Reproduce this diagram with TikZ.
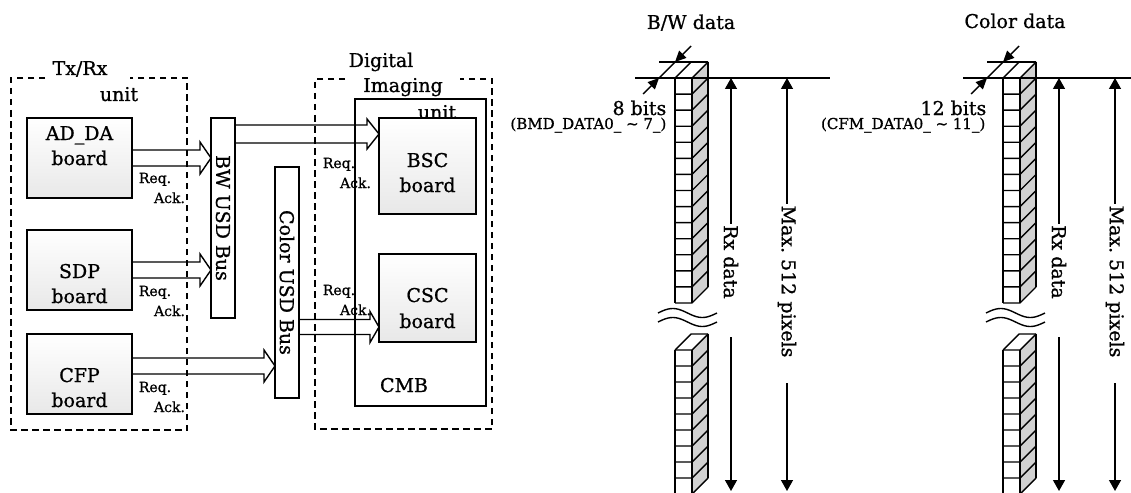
\documentclass[tikz,border=0pt]{standalone}
\usepackage{fontspec}
\setmainfont[FakeBold=0.9]{DejaVu Serif}
\frenchspacing
\usetikzlibrary{arrows.meta,calc}
\newcommand{\hollowarr}[5]{%
  \draw let \p1=(#1), \p2=(#2) in (\x1,{\y2+#3pt}) -- ({\x2-#5pt},{\y2+#3pt}) -- ({\x2-#5pt},{\y2+#4pt}) -- (\x2,\y2) -- ({\x2-#5pt},{\y2-#4pt}) -- ({\x2-#5pt},{\y2-#3pt}) -- (\x1,{\y2-#3pt});}
\newcommand{\datacol}[4]{%
  \fill[sidegray] (#1+17,#2) -- (#1+33,#2-16) -- (#1+33,{#2+#3*#4-16}) -- (#1+17,{#2+#3*#4}) -- cycle;
  \draw (#1,#2) -- (#1+16,#2-16) -- (#1+33,#2-16);
  \draw (#1,#2) -- (#1,{#2+#3*#4});
  \draw (#1+17,#2) -- (#1+17,{#2+#3*#4});
  \draw (#1+33,#2-16) -- (#1+33,{#2+#3*#4-16});
  \foreach \i in {0,...,#3}{\draw (#1,{#2+\i*#4}) -- (#1+17,{#2+\i*#4}) -- (#1+33,{#2+\i*#4-16});}
}
\begin{document}
\begin{tikzpicture}[x=1pt,y=-1pt,line width=1.4pt,
  big/.style={font=\fontsize{19}{23}\selectfont},
  mid/.style={font=\fontsize{14}{16}\selectfont},
  sml/.style={font=\fontsize{15}{17}\selectfont},
  wh/.style 2 args={draw,rectangle,inner sep=0pt,outer sep=0pt,minimum width=#1,minimum height=#2,anchor=north west},
  board/.style={top color=white,bottom color=black!9},
  dashbox/.style={dash pattern=on 6.5pt off 4.5pt},
  sidegray/.style={fill=black!18},
  rot/.style={big,rotate=-90,inner sep=1pt},
  tip/.style={-{Triangle[length=11pt,width=12pt]}},
  dtip/.style={-{Triangle[length=11pt,width=10pt]}}]
\useasboundingbox (0,0) rectangle (1131,492);

% ---------- left block diagram ----------
\draw[dashbox] (45,78) -- (11,78) -- (11,430) -- (187,430) -- (187,78) -- (130,78);
\draw[dashbox] (345,79) -- (315,79) -- (315,429) -- (492,429) -- (492,79) -- (460,79);
\node[big,anchor=base] (t1) at (80,75) {Tx/Rx};
\node[big,anchor=base] (t2) at (119,101) {unit};
\node[big,anchor=base] (d1) at (381,67) {Digital};
\node[big,anchor=base] (d2) at (403,92) {Imaging};

\node[wh={131pt}{307pt}] (cmb) at (355,99) {};
\node[big,anchor=base] (d3) at (437,119) {unit};
\node[big,anchor=base] (cmbt) at (404,392) {CMB};

\node[wh={105pt}{80pt},board] (ad) at (27,118) {};
\node[wh={105pt}{80pt},board] (sdp) at (27,230) {};
\node[wh={105pt}{80pt},board] (cfp) at (27,334) {};
\node[wh={97pt}{96pt},board] (bsc) at (379,118) {};
\node[wh={97pt}{88pt},board] (csc) at (379,254) {};
\node[wh={24pt}{200pt}] (bw) at (211,118) {};
\node[wh={24pt}{231pt}] (col) at (275,167) {};

\node[big,anchor=base] (adt1) at (79.5,140) {AD\_DA};
\node[big,anchor=base] (adt2) at (79.5,165) {board};
\node[big,anchor=base] (sdt1) at (79.5,278) {SDP};
\node[big,anchor=base] (sdt2) at (79.5,303) {board};
\node[big,anchor=base] (cft1) at (79.5,382) {CFP};
\node[big,anchor=base] (cft2) at (79.5,407) {board};
\node[big,anchor=base] (bst1) at (427.5,167) {BSC};
\node[big,anchor=base] (bst2) at (427.5,192) {board};
\node[big,anchor=base] (cst1) at (427.5,302) {CSC};
\node[big,anchor=base] (cst2) at (427.5,328) {board};

\node[rot] (bwt) at (223,218) {BW USD Bus};
\node[rot] (colt) at (287,282.5) {Color USD Bus};

\path ($(cfp.east)+(0,-8)$) coordinate (cfpa);
\path ($(bsc.west)+(0,-32)$) coordinate (bsca);
\path ($(csc.west)+(0,29)$) coordinate (csca);
\hollowarr{ad.east}{ad.east -| bw.west}{8}{16}{11}
\hollowarr{sdp.east}{sdp.east -| bw.west}{8}{16}{11}
\hollowarr{cfpa}{cfpa -| col.west}{8}{16}{11}
\hollowarr{bsca -| bw.east}{bsca}{9}{15}{12}
\hollowarr{csca -| col.east}{csca}{7.5}{15.5}{9}

\foreach \n/\y in {a/183,b/296,c/392}{
  \node[mid,anchor=base] (req\n) at (155,\y) {Req.};
  \node[mid,anchor=base] (ack\n) at (169.5,{\y+20}) {Ack.};}
\foreach \n/\y in {d/168,e/295}{
  \node[mid,anchor=base] (req\n) at (339,\y) {Req.};
  \node[mid,anchor=base] (ack\n) at (355.5,{\y+20}) {Ack.};}

% ---------- right: data columns ----------
\foreach \dx in {0,328}{
  \begin{scope}[xshift=\dx]
  \datacol{675}{78}{14}{16.07}
  \begin{scope}
    \clip (600,0) rectangle (900,492);
    \datacol{675}{350}{9}{16}
  \end{scope}
  \draw (635,78) -- (830,78);
  \draw (659,62) -- (708,62);
  \draw[dtip] (643,94) -- (659,78);
  \draw (659,78) -- (675,62);
  \draw[dtip] (691,46) -- (675,62);
  \draw plot[domain=0:1,samples=30,smooth] ({658+59*\x},{313-4.5*sin(360*\x)});
  \draw plot[domain=0:1,samples=30,smooth] ({658+59*\x},{322-4.5*sin(360*\x)});
  \end{scope}
}
\node[big,anchor=base] (bwtitle) at (691,29) {B/W data};
\node[big,anchor=base] (coltitle) at (1015,28) {Color data};
\node[big,anchor=base east,inner sep=0pt] (bits1) at (667,115) {8 bits};
\node[sml,anchor=base east,inner sep=0pt] (sig1) at (667,129) {(BMD\_DATA0\_ \textasciitilde{} 7\_)};
\node[big,anchor=base east,inner sep=0pt] (bits2) at (987,115) {12 bits};
\node[sml,anchor=base east,inner sep=0pt] (sig2) at (986,129) {(CFM\_DATA0\_ \textasciitilde{} 11\_)};

% vertical dimension arrows
\foreach \k/\rx/\mx in {p/731/787, q/1059/1115}{
  \node[rot] (rx\k) at (\rx,262) {Rx data};
  \node[rot] (mx\k) at (\mx,281.5) {Max. 512 pixels};
  \coordinate (rxtop\k) at (\rx,78);
  \coordinate (rxlow\k) at (\rx,337);
  \coordinate (rxbot\k) at (\rx,491);
  \coordinate (mxtop\k) at (\mx,78);
  \coordinate (mxlow\k) at (\mx,383);
  \coordinate (mxbot\k) at (\mx,491);
  \draw[tip] (rx\k.west) -- (rxtop\k);
  \draw[tip] (rxlow\k) -- (rxbot\k);
  \draw[tip] (mx\k.west) -- (mxtop\k);
  \draw[tip] (mxlow\k) -- (mxbot\k);
}
\end{tikzpicture}
\end{document}
